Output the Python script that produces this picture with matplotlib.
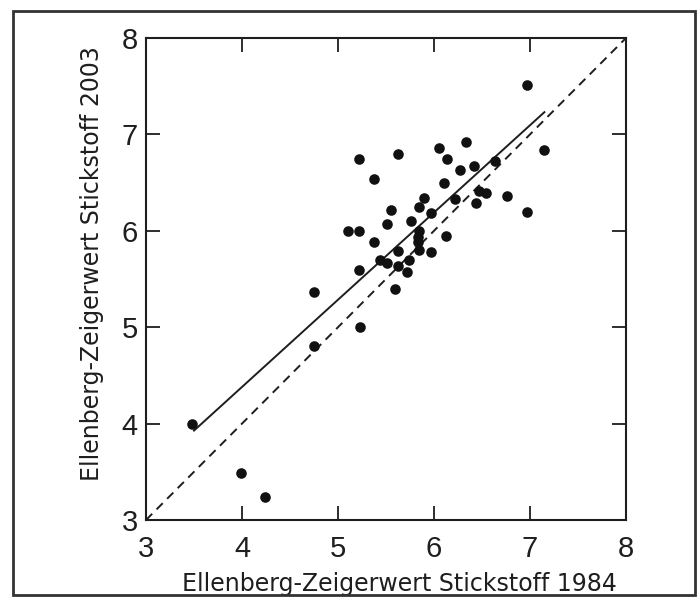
import matplotlib
matplotlib.use("Agg")
import matplotlib.pyplot as plt
from matplotlib.patches import Rectangle
import numpy as np

plt.rcParams['font.family'] = ['Liberation Sans', 'DejaVu Sans']

x1984 = [3.48, 3.99, 4.24, 4.75, 4.75, 5.22, 5.22, 5.10, 5.22, 5.23,
         5.38, 5.38, 5.44, 5.51, 5.51, 5.55, 5.63, 5.62, 5.62, 5.59,
         5.74, 5.72, 5.76, 5.84, 5.84, 5.83, 5.83, 5.84, 5.90, 5.97,
         5.97, 6.05, 6.10, 6.14, 6.13, 6.22, 6.27, 6.33, 6.42, 6.44,
         6.47, 6.54, 6.64, 6.76, 6.97, 6.97, 7.15]
y2003 = [4.00, 3.49, 3.24, 5.37, 4.80, 6.75, 6.00, 6.00, 5.59, 5.00,
         6.54, 5.88, 5.70, 6.07, 5.67, 6.22, 6.80, 5.79, 5.63, 5.40,
         5.70, 5.57, 6.10, 6.25, 6.00, 5.94, 5.88, 5.80, 6.34, 6.18,
         5.78, 6.86, 6.50, 6.75, 5.95, 6.33, 6.63, 6.92, 6.67, 6.29,
         6.41, 6.39, 6.72, 6.36, 7.51, 6.20, 6.84]

reg_slope = 0.905
reg_intercept = 0.76
reg_xrange = [3.5, 7.15]
axis_range = [3, 8]
ticks = [3, 4, 5, 6, 7, 8]
xlabel = "Ellenberg-Zeigerwert Stickstoff 1984"
ylabel = "Ellenberg-Zeigerwert Stickstoff 2003"

ink = '#1e1e1e'
fig = plt.figure(figsize=(7, 6.06), dpi=100)
fig.patches.append(Rectangle((12.5/700, 11/606), 682.5/700, 584/606, transform=fig.transFigure,
                             fill=False, edgecolor='#333333', linewidth=2.0))
ax = fig.add_axes([146/700, 86/606, 480/700, 482/606])

ax.plot(axis_range, axis_range, color=ink, linestyle=(0, (4.5, 3.2)), linewidth=1.4)
rx = np.array(reg_xrange)
ax.plot(rx, reg_intercept + reg_slope * rx, color=ink, linewidth=1.4)
ax.scatter(x1984, y2003, s=58, color='#111111', zorder=3, linewidths=0)

ax.set_xlim(axis_range)
ax.set_ylim(axis_range)
ax.set_xticks(ticks)
ax.set_yticks(ticks)
ax.tick_params(direction='in', length=10, width=1.3, labelsize=21, top=True, right=True,
               colors=ink)
ax.tick_params(axis='x', pad=10.5)
ax.tick_params(axis='y', pad=6)
for s in ax.spines.values():
    s.set_linewidth(1.5)
    s.set_color(ink)

ax.set_xlabel(xlabel, fontsize=17, color=ink, family=['DejaVu Sans'])
ax.xaxis.label.set_va('baseline')
ax.xaxis.set_label_coords(0.529, -0.1473)
ax.set_ylabel(ylabel, fontsize=17, color=ink, family=['DejaVu Sans'])
ax.yaxis.set_label_coords(-0.0885, 0.533)

fig.savefig("out.png", dpi=100)
